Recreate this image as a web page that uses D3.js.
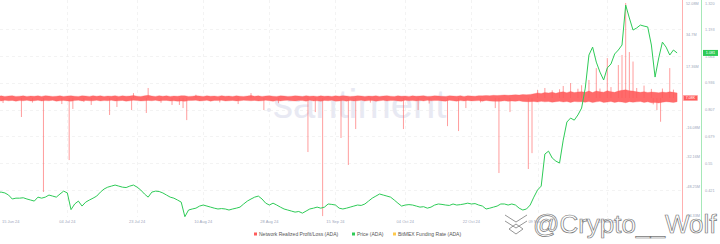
<!DOCTYPE html>
<html lang="en">
<head>
<meta charset="utf-8">
<title>ADA realized profit/loss vs price</title>
<script src="https://d3js.org/d3.v7.min.js"></script>
<style type="text/css">
  html, body { margin: 0; padding: 0; background: #fff; }
  svg { display: block; font-family: 'Liberation Sans', Arial, sans-serif; }
</style>
</head>
<body>
<div id="chart"></div>
<script>

/* Data */
/* ==== */

// one value per day, starting 15 Jun 2024
var firstDay = '2024-06-15';

var priceValues = [
  0.411, 0.411, 0.407, 0.397, 0.378, 0.382, 0.382, 0.384, 0.378, 0.373,
  0.368, 0.387, 0.382, 0.387, 0.397, 0.392, 0.387, 0.402, 0.416, 0.407,
  0.327, 0.354, 0.368, 0.344, 0.363, 0.373, 0.382, 0.392, 0.411, 0.426,
  0.435, 0.440, 0.445, 0.440, 0.435, 0.433, 0.440, 0.445, 0.435, 0.421,
  0.402, 0.387, 0.411, 0.416, 0.414, 0.407, 0.397, 0.387, 0.382, 0.373,
  0.363, 0.293, 0.325, 0.330, 0.334, 0.344, 0.349, 0.344, 0.339, 0.334,
  0.330, 0.332, 0.330, 0.325, 0.330, 0.334, 0.339, 0.354, 0.368, 0.378,
  0.387, 0.392, 0.378, 0.358, 0.349, 0.358, 0.349, 0.339, 0.330, 0.325,
  0.320, 0.315, 0.318, 0.310, 0.320, 0.330, 0.334, 0.339, 0.334, 0.339,
  0.354, 0.352, 0.349, 0.334, 0.330, 0.334, 0.339, 0.344, 0.349, 0.347,
  0.354, 0.368, 0.382, 0.392, 0.402, 0.397, 0.392, 0.387, 0.373, 0.358,
  0.344, 0.349, 0.351, 0.349, 0.344, 0.339, 0.341, 0.334, 0.339, 0.349,
  0.354, 0.352, 0.349, 0.347, 0.354, 0.349, 0.351, 0.354, 0.358, 0.354,
  0.356, 0.349, 0.344, 0.330, 0.334, 0.339, 0.344, 0.354, 0.354, 0.349,
  0.354, 0.349, 0.334, 0.325, 0.330, 0.349, 0.387, 0.421, 0.440, 0.594,
  0.608, 0.575, 0.560, 0.551, 0.661, 0.748, 0.767, 0.757, 0.782, 0.815,
  0.911, 1.070, 1.108, 1.036, 0.988, 0.950, 1.008, 1.027, 1.075, 1.094,
  1.118, 1.310, 1.248, 1.190, 1.200, 1.214, 1.209, 1.205, 1.118, 0.964,
  1.056, 1.132, 1.108, 1.070, 1.094, 1.080
];

// Network realized profit/loss: daily range of the dense band (millions)
var plHigh = [
  1.0, 1.2, 0.9, 1.1, 1.3, 0.9, 1.0, 1.2, 0.9, 1.1,
  1.0, 1.2, 0.9, 1.3, 1.1, 0.9, 1.0, 1.2, 0.9, 1.1,
  1.2, 1.0, 0.9, 1.2, 1.1, 0.9, 1.3, 1.0, 1.2, 0.9,
  1.1, 1.0, 1.3, 0.9, 1.2, 1.0, 1.1, 1.4, 1.0, 0.9,
  1.2, 1.5, 1.1, 0.9, 1.3, 1.0, 1.2, 0.9, 1.1, 1.0,
  1.3, 1.2, 0.9, 1.0, 1.3, 1.1, 0.9, 1.2, 1.0, 1.1,
  0.9, 1.3, 1.0, 1.1, 0.9, 1.2, 1.0, 0.9, 1.1, 1.4,
  1.0, 1.2, 0.9, 1.1, 1.3, 1.0, 0.9, 1.2, 1.1, 0.9,
  1.0, 1.2, 1.1, 0.9, 1.3, 1.0, 1.1, 0.9, 1.2, 1.0,
  1.1, 0.9, 1.2, 1.0, 1.3, 1.1, 0.9, 1.0, 1.2, 1.1,
  0.9, 1.1, 1.0, 1.2, 0.9, 1.1, 1.3, 1.0, 0.9, 1.2,
  1.0, 1.1, 0.9, 1.2, 1.0, 1.1, 1.3, 0.9, 1.0, 1.2,
  1.1, 1.0, 0.9, 1.2, 1.1, 1.0, 1.3, 0.9, 1.2, 1.1,
  1.0, 1.3, 1.2, 1.4, 1.3, 1.5, 1.4, 1.5, 1.7, 1.5,
  1.6, 1.8, 1.6, 1.9, 1.8, 2.0, 2.3, 2.8, 2.5, 3.0,
  2.8, 3.1, 2.6, 3.2, 3.4, 2.9, 3.6, 3.0, 3.3, 3.5,
  3.1, 3.8, 3.0, 3.9, 3.4, 3.2, 4.0, 3.5, 3.1, 3.8,
  4.2, 4.5, 4.0, 3.8, 3.4, 3.1, 3.5, 3.0, 3.3, 3.1,
  2.9, 3.3, 3.0, 3.4, 3.1, 2.8
];

var plLow = [
  -1.4, -1.6, -1.2, -1.5, -1.3, -1.7, -1.4, -1.5, -1.2, -1.6,
  -1.5, -1.2, -1.6, -1.4, -1.5, -1.2, -1.7, -1.5, -1.3, -1.6,
  -1.7, -1.4, -1.2, -1.6, -1.3, -1.5, -1.5, -1.2, -1.6, -1.4,
  -1.5, -1.2, -1.6, -1.5, -1.3, -1.7, -1.5, -1.2, -1.4, -1.6,
  -1.5, -1.3, -1.5, -1.2, -1.6, -1.4, -1.3, -1.6, -1.5, -1.7,
  -1.6, -1.8, -1.4, -1.3, -1.2, -1.6, -1.5, -1.2, -1.7, -1.3,
  -1.4, -1.2, -1.6, -1.5, -1.3, -1.6, -1.5, -1.2, -1.4, -1.5,
  -1.3, -1.6, -1.5, -1.2, -1.5, -1.7, -1.4, -1.6, -1.3, -1.2,
  -1.5, -1.6, -1.3, -1.4, -1.7, -1.2, -1.6, -1.5, -1.8, -1.3,
  -1.5, -1.2, -1.7, -1.6, -1.4, -1.7, -1.3, -1.6, -1.5, -1.2,
  -1.6, -1.4, -1.3, -1.7, -1.5, -1.2, -1.6, -1.4, -1.3, -1.6,
  -1.7, -1.2, -1.5, -1.4, -1.6, -1.3, -1.6, -1.2, -1.5, -1.4,
  -1.3, -1.6, -1.7, -1.2, -1.5, -1.7, -1.4, -1.6, -1.3, -1.6,
  -1.5, -1.4, -1.7, -1.3, -1.6, -1.7, -1.8, -1.7, -1.5, -1.8,
  -1.6, -1.8, -1.5, -1.9, -2.0, -2.0, -1.9, -2.2, -1.8, -2.1,
  -1.9, -2.3, -2.0, -1.8, -2.2, -1.9, -2.4, -1.9, -2.1, -2.0,
  -2.3, -1.9, -2.5, -2.1, -1.8, -2.4, -2.2, -1.9, -2.4, -2.0,
  -2.2, -2.6, -2.0, -2.3, -2.1, -1.9, -2.4, -2.1, -2.6, -2.5,
  -2.7, -2.3, -2.0, -2.2, -2.5, -2.0
];

// Network realized profit/loss: individual spikes outside the band (millions)
var plSpikes = [
  ['2024-06-16 12', -2.7], ['2024-06-21 12', -10.4], ['2024-06-24 12', -2.5],
  ['2024-06-27 12', -51.5], ['2024-07-02 12', -3.3], ['2024-07-04 12', -34.0],
  ['2024-07-05 12', -6.0], ['2024-07-08 12', -2.2], ['2024-07-10 12', -3.8],
  ['2024-07-15 12', -9.3], ['2024-07-17 12', -4.9], ['2024-07-21 12', -6.6],
  ['2024-07-22 00', 2.7], ['2024-07-25 12', -8.2], ['2024-07-26 00', 5.5],
  ['2024-07-29 12', -2.6], ['2024-08-01 12', -3.8], ['2024-08-03 12', -3.8],
  ['2024-08-04 12', -5.5], ['2024-08-05 12', -12.1], ['2024-08-08 00', 1.8],
  ['2024-08-14 12', -2.4], ['2024-08-19 12', -3.3], ['2024-08-23 00', 2.7],
  ['2024-08-26 12', -6.6], ['2024-08-30 12', -2.8], ['2024-09-07 12', -29.6],
  ['2024-09-09 12', -7.7], ['2024-09-11 12', -64.7], ['2024-09-16 12', -21.9],
  ['2024-09-18 12', -36.7], ['2024-09-20 12', -17.0], ['2024-09-24 12', -2.5],
  ['2024-10-03 12', -17.0], ['2024-10-07 12', -6.6], ['2024-10-10 12', -3.0],
  ['2024-10-15 12', -15.4], ['2024-10-18 12', -18.1], ['2024-10-20 12', -5.5],
  ['2024-10-24 12', -2.4], ['2024-10-28 12', -5.5], ['2024-10-29 12', -41.1],
  ['2024-11-01 12', -7.7], ['2024-11-06 12', -38.9], ['2024-11-07 12', -30.2],
  ['2024-11-09 00', 4.5], ['2024-11-11 00', 5.5], ['2024-11-13 00', 4.2],
  ['2024-11-15 00', 4.8], ['2024-11-16 00', 6.6], ['2024-11-18 00', 8.2],
  ['2024-11-20 00', 5.1], ['2024-11-21 00', 7.0], ['2024-11-23 00', 9.9],
  ['2024-11-25 00', 16.4], ['2024-11-26 00', 5.2], ['2024-11-28 00', 21.9],
  ['2024-11-29 00', 6.0], ['2024-12-01 00', 18.1], ['2024-12-02 00', 23.6],
  ['2024-12-03 00', 52.1], ['2024-12-04 00', 25.2], ['2024-12-05 00', 20.0],
  ['2024-12-06 00', 5.5], ['2024-12-08 00', 6.8], ['2024-12-10 00', 5.0],
  ['2024-12-10 12', -3.5], ['2024-12-11 12', -6.6], ['2024-12-12 12', -13.0],
  ['2024-12-13 00', 5.2], ['2024-12-15 00', 16.4], ['2024-12-16 00', 4.6]
];

var xTickLabels = ['15 Jun 24', '04 Jul 24', '23 Jul 24', '10 Aug 24', '28 Aug 24',
                   '15 Sep 24', '04 Oct 24', '22 Oct 24', '09 Nov 24', '28 Nov 24'];

var plTicks = [52.08, 34.72, 17.36, -16.08, -32.16, -48.25, -64.33];
var plTickLabels = ['52.08M', '34.7M', '17.36M', '-16.08M', '-32.16M', '-48.25M', '-64.33M'];

var priceTicks = [1.320, 1.193, 1.064, 0.936, 0.807, 0.679, 0.55, 0.421];
var priceTickLabels = ['1.320', '1.193', '1.064', '0.936', '0.807', '0.679', '0.55', '0.421'];

var legendLabels = ['Network Realized Profit/Loss (ADA)', 'Price (ADA)', 'BitMEX Funding Rate (ADA)'];
var lastPriceLabel = '1.081';
var lastPlLabel = '7.08K';


/* Set up */
/* ====== */

var width = 720,
    height = 244,
    plotRight = 682,
    plotTop = 3,
    plotBottom = 217;

var colors = { pl: '#ff5b5b', price: '#2ecb57', funding: '#ffc94a' };

var svg = d3.select('#chart').append('svg')
    .attr('width', width)
    .attr('height', height);

var parseDay = d3.utcParse('%Y-%m-%d');
var parseHour = d3.utcParse('%Y-%m-%d %H');
var parseTick = d3.utcParse('%d %b %y');
var start = parseDay(firstDay);
var days = priceValues.map(function(d, i) { return d3.utcDay.offset(start, i); });

// scales
var x = d3.scaleTime()
    .domain([d3.utcHour.offset(start, 16.4), d3.utcHour.offset(start, 186 * 24 + 8.5)])
    .range([0, plotRight]);

var yPl = d3.scaleLinear()
    .domain([-65.2, 52.08])
    .range([plotBottom, plotTop]);

var yPrice = d3.scaleLinear()
    .domain([0.2915, 1.320])
    .range([plotBottom, plotTop]);


/* Watermark */
/* --------- */

svg.append('circle')
    .attr('cx', 269).attr('cy', 110).attr('r', 2)
    .attr('fill', '#e8e9f3');

svg.append('text')
    .attr('x', 273).attr('y', 118)
    .attr('font-size', 40)
    .attr('fill', '#e8e9f3')
    .text('santiment');


/* Grid */
/* ---- */

var grid = svg.append('g').attr('stroke', '#ebebeb').attr('stroke-dasharray', '3,3').attr('stroke-width', 0.6);

grid.selectAll('line.h')
  .data(priceTicks.slice(1))
  .enter().append('line')
    .attr('x1', 0).attr('x2', plotRight)
    .attr('y1', function(d) { return Math.round(yPrice(d)) + 0.5; })
    .attr('y2', function(d) { return Math.round(yPrice(d)) + 0.5; });

var tickDates = xTickLabels.map(function(d) { return parseTick(d); });

grid.selectAll('line.v')
  .data(tickDates.filter(function(d) { return x(d) > 5; }))
  .enter().append('line')
    .attr('x1', function(d) { return Math.round(x(d)) + 0.5; })
    .attr('x2', function(d) { return Math.round(x(d)) + 0.5; })
    .attr('y1', 0).attr('y2', plotBottom);


/* Series */
/* ------ */

svg.append('clipPath').attr('id', 'plot-clip')
  .append('rect').attr('x', 0).attr('y', 0).attr('width', plotRight).attr('height', plotBottom + 2);

var plot = svg.append('g').attr('clip-path', 'url(#plot-clip)');

// realized P/L spikes
plot.append('g')
    .attr('stroke', colors.pl)
    .attr('stroke-opacity', 0.6)
    .attr('stroke-width', 1)
  .selectAll('line')
  .data(plSpikes)
  .enter().append('line')
    .attr('x1', function(d) { return x(parseHour(d[0])); })
    .attr('x2', function(d) { return x(parseHour(d[0])); })
    .attr('y1', yPl(0))
    .attr('y2', function(d) { return yPl(d[1]); });

// realized P/L dense band
plot.append('path')
    .datum(days)
    .attr('fill', colors.pl)
    .attr('fill-opacity', 0.9)
    .attr('stroke', colors.pl)
    .attr('stroke-opacity', 0.5)
    .attr('stroke-width', 0.6)
    .attr('d', d3.area()
      .x(function(d) { return x(d); })
      .y0(function(d, i) { return yPl(plLow[i]); })
      .y1(function(d, i) { return yPl(plHigh[i]); }));

// price
plot.append('path')
    .datum(priceValues)
    .attr('fill', 'none')
    .attr('stroke', colors.price)
    .attr('stroke-width', 1)
    .attr('stroke-linejoin', 'round')
    .attr('d', d3.line()
      .x(function(d, i) { return x(days[i]); })
      .y(function(d) { return yPrice(d); }));


/* Axes */
/* ---- */

var axisColor = '#a0a7bb';

// x axis labels
svg.append('g').selectAll('text')
  .data(tickDates)
  .enter().append('text')
    .attr('x', function(d) { var px = x(d); return px < 10 ? 2 : px; })
    .attr('y', 223)
    .attr('text-anchor', function(d) { return x(d) < 10 ? 'start' : 'middle'; })
    .attr('font-size', 4)
    .attr('fill', axisColor)
    .text(function(d, i) { return xTickLabels[i]; });

// P/L axis
svg.append('line')
    .attr('x1', plotRight + 0.5).attr('x2', plotRight + 0.5)
    .attr('y1', 0).attr('y2', 222)
    .attr('stroke', '#ffb0b0').attr('stroke-width', 1);

svg.append('g').selectAll('text')
  .data(plTicks)
  .enter().append('text')
    .attr('x', 686)
    .attr('y', function(d) { return yPl(d) + 1.5; })
    .attr('font-size', 3.8)
    .attr('fill', axisColor)
    .text(function(d, i) { return plTickLabels[i]; });

// price axis
svg.append('line')
    .attr('x1', 701.5).attr('x2', 701.5)
    .attr('y1', 0).attr('y2', 222)
    .attr('stroke', '#a6e8b8').attr('stroke-width', 1);

svg.append('g').selectAll('text')
  .data(priceTicks)
  .enter().append('text')
    .attr('x', 705)
    .attr('y', function(d) { return yPrice(d) + 1.5; })
    .attr('font-size', 3.8)
    .attr('fill', axisColor)
    .text(function(d, i) { return priceTickLabels[i]; });

// last value badges
var lastPrice = priceValues[priceValues.length - 1];
svg.append('rect')
    .attr('x', 703).attr('y', yPrice(lastPrice) - 3)
    .attr('width', 15).attr('height', 6)
    .attr('fill', colors.price);
svg.append('text')
    .attr('x', 710.5).attr('y', yPrice(lastPrice) + 1.4)
    .attr('text-anchor', 'middle')
    .attr('font-size', 3.8).attr('fill', '#fff')
    .text(lastPriceLabel);

svg.append('rect')
    .attr('x', 683.5).attr('y', yPl(0) - 2.5)
    .attr('width', 14).attr('height', 5)
    .attr('fill', colors.pl).attr('stroke', '#ff9a9a').attr('stroke-width', 0.5);
svg.append('text')
    .attr('x', 690.5).attr('y', yPl(0) + 1.3)
    .attr('text-anchor', 'middle')
    .attr('font-size', 3.6).attr('fill', '#fff')
    .text(lastPlLabel);


/* Legend */
/* ------ */

var legendX = [254, 352, 393];
var legendColors = [colors.pl, colors.price, colors.funding];

var legend = svg.append('g').selectAll('g')
  .data(legendLabels)
  .enter().append('g')
    .attr('transform', function(d, i) { return 'translate(' + legendX[i] + ',236)'; });

legend.append('rect')
    .attr('x', 0).attr('y', -3.5)
    .attr('width', 3).attr('height', 3)
    .attr('fill', function(d, i) { return legendColors[i]; });

legend.append('text')
    .attr('x', 5).attr('y', 0)
    .attr('font-size', 5)
    .attr('fill', '#555')
    .text(function(d) { return d; });


/* Author watermark */
/* ---------------- */

var mark = svg.append('g').attr('fill', 'none').attr('stroke', '#8a8a8a').attr('stroke-width', 0.9);
mark.append('path').attr('d', 'M505,215 L516,222 L527,215');
mark.append('path').attr('d', 'M505,221 L516,228 L527,221');
mark.append('path').attr('d', 'M509,229 L516,234 L523,229 L516,224 Z');

svg.append('text')
    .attr('x', 533).attr('y', 233)
    .attr('font-size', 26)
    .attr('fill', '#fff')
    .attr('fill-opacity', 0.6)
    .attr('stroke', '#777')
    .attr('stroke-width', 0.7)
    .text('@Crypto__Wolf');

</script>
</body>
</html>
